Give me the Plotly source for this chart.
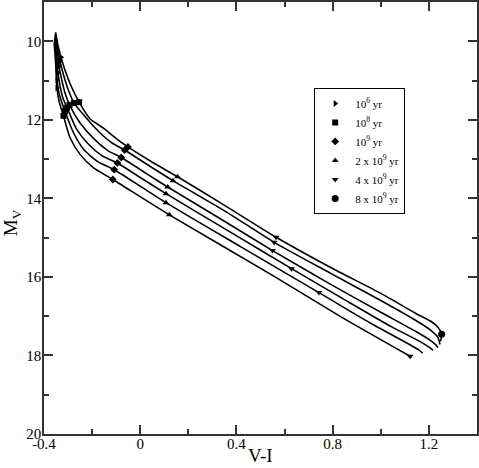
import plotly.graph_objects as go

# cooling tracks (V-I, M_V), six sequences from top/right (a) to bottom/left (f)
vi_a = [-0.352, -0.342, -0.329, -0.3125, -0.2875, -0.254, -0.208, -0.153, -0.097, -0.051,
        0.042, 0.155, 0.354, 0.565, 0.792, 1.0, 1.146, 1.208, 1.2375, 1.253, 1.248]
mv_a = [9.77, 10.10, 10.41, 10.74, 11.14, 11.55, 11.98, 12.21, 12.49, 12.69,
        13.05, 13.45, 14.19, 14.99, 15.76, 16.42, 16.93, 17.13, 17.28, 17.46, 17.64]

vi_b = [-0.354, -0.344, -0.333, -0.321, -0.300, -0.275, -0.225, -0.171, -0.117, -0.065,
        0.042, 0.136, 0.354, 0.557, 0.792, 1.0, 1.146, 1.208, 1.2375, 1.246]
mv_b = [9.82, 10.15, 10.51, 10.81, 11.22, 11.57, 11.95, 12.31, 12.59, 12.77,
        13.19, 13.55, 14.33, 15.12, 15.91, 16.60, 17.11, 17.36, 17.54, 17.72]

vi_c = [-0.354, -0.346, -0.3375, -0.327, -0.3125, -0.294, -0.25, -0.196, -0.1375, -0.079,
        0.021, 0.114, 0.333, 0.55, 0.792, 1.0, 1.146, 1.2, 1.229, 1.2375]
mv_c = [9.87, 10.20, 10.64, 10.96, 11.32, 11.62, 12.08, 12.46, 12.77, 12.96,
        13.35, 13.71, 14.52, 15.33, 16.19, 16.90, 17.39, 17.59, 17.73, 17.80]

vi_d = [-0.356, -0.348, -0.342, -0.333, -0.321, -0.304, -0.267, -0.217, -0.158, -0.095,
        0.0, 0.107, 0.375, 0.629, 0.833, 1.042, 1.167, 1.208, 1.217]
mv_d = [9.92, 10.30, 10.81, 11.14, 11.45, 11.69, 12.21, 12.61, 12.92, 13.10,
        13.47, 13.88, 14.86, 15.79, 16.52, 17.26, 17.66, 17.82, 17.87]

vi_e = [-0.356, -0.350, -0.346, -0.3375, -0.325, -0.3125, -0.279, -0.233, -0.175, -0.108,
        0.0, 0.107, 0.417, 0.743, 0.958, 1.125, 1.158, 1.174]
mv_e = [9.97, 10.38, 10.99, 11.32, 11.57, 11.78, 12.31, 12.77, 13.07, 13.27,
        13.69, 14.11, 15.23, 16.40, 17.18, 17.74, 17.86, 17.94]

vi_f = [-0.358, -0.352, -0.346, -0.3375, -0.319, -0.292, -0.25, -0.195, -0.114, 0.121,
        0.55, 0.833, 1.122]
mv_f = [10.03, 10.51, 11.19, 11.52, 11.90, 12.45, 12.88, 13.22, 13.52, 14.42,
        15.96, 17.01, 18.02]

# age markers along the tracks
ages = ["10<sup>6</sup> yr", "10<sup>8</sup> yr", "10<sup>9</sup> yr",
        "2 x 10<sup>9</sup> yr", "4 x 10<sup>9</sup> yr", "8 x 10<sup>9</sup> yr"]
age_vi = [
    [-0.329, -0.333, -0.3375, -0.342, -0.346, -0.346],
    [-0.254, -0.275, -0.294, -0.304, -0.3125, -0.319],
    [-0.051, -0.065, -0.079, -0.095, -0.108, -0.114],
    [0.155, 0.136, 0.114, 0.107, 0.107, 0.121],
    [0.565, 0.557, 0.55, 0.629, 0.743, 1.122],
    [1.253],
]
age_mv = [
    [10.41, 10.51, 10.64, 10.81, 10.99, 11.19],
    [11.55, 11.57, 11.62, 11.69, 11.78, 11.90],
    [12.69, 12.77, 12.96, 13.10, 13.27, 13.52],
    [13.45, 13.55, 13.71, 13.88, 14.11, 14.42],
    [14.99, 15.12, 15.33, 15.79, 16.40, 18.02],
    [17.46],
]
symbols = ["triangle-right", "square", "diamond", "triangle-up", "triangle-down", "circle"]
sizes = [6, 6, 6, 6, 6, 7]

fig = go.Figure()
for xs, ys in [(vi_a, mv_a), (vi_b, mv_b), (vi_c, mv_c), (vi_d, mv_d), (vi_e, mv_e), (vi_f, mv_f)]:
    fig.add_trace(go.Scatter(x=xs, y=ys, mode="lines", showlegend=False,
                             line=dict(color="black", width=1.6, shape="spline", smoothing=0.6)))

for name, xs, ys, sym, sz in zip(ages, age_vi, age_mv, symbols, sizes):
    fig.add_trace(go.Scatter(x=xs, y=ys, mode="markers", name=name,
                             marker=dict(symbol=sym, size=sz, color="black")))

axis_style = dict(showline=True, linecolor="#333", linewidth=1.5, mirror="ticks",
                  ticks="inside", ticklen=9, tickwidth=1.5, tickcolor="#333",
                  showgrid=False, zeroline=False, automargin=False,
                  tickfont=dict(family="Liberation Serif", size=15, color="black"),
                  minor=dict(ticks="inside", ticklen=5, tickwidth=1.5, tickcolor="#333"))

fig.update_xaxes(range=[-0.4, 1.4], tickvals=[-0.4, 0, 0.4, 0.8, 1.2],
                 ticktext=["-0.4", "0", "0.4", "0.8", "1.2"],
                 minor_tickvals=[-0.2, 0.2, 0.6, 1.0], ticklabelstandoff=-5,
                 **axis_style)
fig.update_yaxes(range=[20, 9], tickvals=[10, 12, 14, 16, 18, 20],
                 minor_tickvals=[11, 13, 15, 17, 19], ticklabelstandoff=-2,
                 **axis_style)

title_font = dict(family="Liberation Serif", size=19, color="black")
fig.add_annotation(text="V-I", xref="paper", yref="paper", x=0.5, y=-0.049,
                   xanchor="center", yanchor="middle", showarrow=False, font=title_font)
fig.add_annotation(text="M<sub>V</sub>", xref="paper", yref="paper", x=-0.074, y=0.49,
                   xanchor="center", yanchor="middle", textangle=-90, showarrow=False,
                   font=title_font)

fig.update_layout(
    width=479, height=468,
    margin=dict(l=44, r=2, t=2, b=34),
    plot_bgcolor="white", paper_bgcolor="white",
    legend=dict(x=0.624, y=0.801, xanchor="left", yanchor="top",
                bordercolor="black", borderwidth=1, bgcolor="white",
                font=dict(family="Liberation Serif", size=11, color="black")),
)

# drop the default page margin so the figure sits at the window corner
fig.write_html("out.html", config={"displayModeBar": False},
               post_script="document.body.style.margin='0';")
